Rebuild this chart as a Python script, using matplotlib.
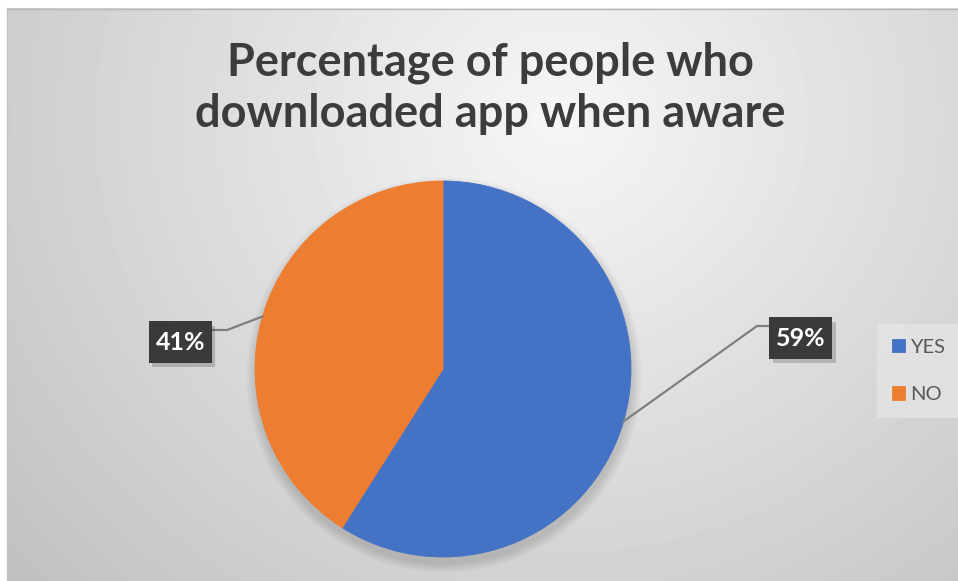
import numpy as np
import matplotlib
matplotlib.use("Agg")
from matplotlib import pyplot as plt
from matplotlib.patches import Rectangle, Circle

# survey answers
labels = ['YES', 'NO']
shares = [59, 41]
colors = ['#4472C4', '#ED7D31']
title_lines = ['Percentage of people who', 'downloaded app when aware']

W, H = 958, 581
fig = plt.figure(figsize=(W / 100, H / 100), dpi=100)
fig.patch.set_facecolor('white')

ax = fig.add_axes([0, 0, 1, 1])
ax.set_xlim(0, W)
ax.set_ylim(H, 0)
ax.axis('off')

# chart area with a soft radial gradient
x0, y0 = 7, 8
xx, yy = np.meshgrid(np.arange(x0, W), np.arange(y0, H))
d = np.sqrt(((xx - 560) / 560.) ** 2 + ((yy - 120) / 520.) ** 2)
shade = np.clip(0.965 - 0.16 * d, 0, 1)
ax.imshow(shade, cmap='gray', vmin=0, vmax=1, extent=(x0, W, H, y0),
          interpolation='bilinear', zorder=0)
ax.plot([x0, W], [y0 + 0.5, y0 + 0.5], color='#b8b8b8', lw=1, zorder=1)
ax.plot([x0 + 0.5, x0 + 0.5], [y0, H], color='#c4c4c4', lw=1, zorder=1)

for line, base in zip(title_lines, [75, 127]):
    ax.text(490, base, line, ha='center', va='baseline', fontsize=32.5,
            fontweight='bold', family='Lato', color='#3c3c3c', zorder=5)

# pie in pixel space (y axis points down, so counterclock draws clockwise)
cx, cy, r = 443, 369, 188
for k in range(10):
    ax.add_patch(Circle((cx + 1, cy + 6), r + 10 - k, color='black',
                        alpha=0.012, lw=0, zorder=2))
wedges, _ = ax.pie(shares, colors=colors, startangle=-90, counterclock=True,
                   center=(cx, cy), radius=r, frame=True,
                   wedgeprops=dict(linewidth=0.6))
for w in wedges:
    w.set_zorder(3)
    w.set_edgecolor(w.get_facecolor())
ax.set_xlim(0, W)
ax.set_ylim(H, 0)
ax.set_aspect('auto')
ax.axis('off')

# data labels with leader lines: box centre, elbow x, box edge x
boxes = {'YES': (801, 338, 757, 769), 'NO': (180.5, 342, 227, 212)}
for w, lab, val in zip(wedges, labels, shares):
    mid = np.deg2rad((w.theta1 + w.theta2) / 2)
    px, py = cx + r * np.cos(mid), cy + r * np.sin(mid)
    bx, by, ex, edge = boxes[lab]
    ly = by - 12
    ax.plot([px, ex, edge], [py, ly, ly], color='#7f7f7f', lw=1.6, zorder=4)
    ax.add_patch(Rectangle((bx - 31 + 3, by - 20 + 4), 63, 41, color='black',
                           alpha=0.18, lw=0, zorder=4))
    ax.add_patch(Rectangle((bx - 31.5, by - 21), 63, 42, color='#3a3a3a',
                           lw=0, zorder=5))
    ax.text(bx, by + 1, f'{val}%', ha='center', va='center', fontsize=18,
            fontweight='bold', family='Lato', color='white', zorder=6)

leg = ax.legend(wedges, labels, loc='center left',
                bbox_to_anchor=(877 / W, 1 - 371 / H), borderaxespad=0,
                frameon=True, prop=dict(family='Lato', size=14.5),
                labelcolor='#595959', handlelength=0.62, handleheight=0.62,
                handletextpad=0.25, labelspacing=1.5, borderpad=0.75,
                fancybox=False, facecolor='#e6e6e6', edgecolor='none',
                framealpha=0.7)
leg.set_zorder(6)

fig.savefig('out.png', dpi=100, facecolor=fig.get_facecolor())
